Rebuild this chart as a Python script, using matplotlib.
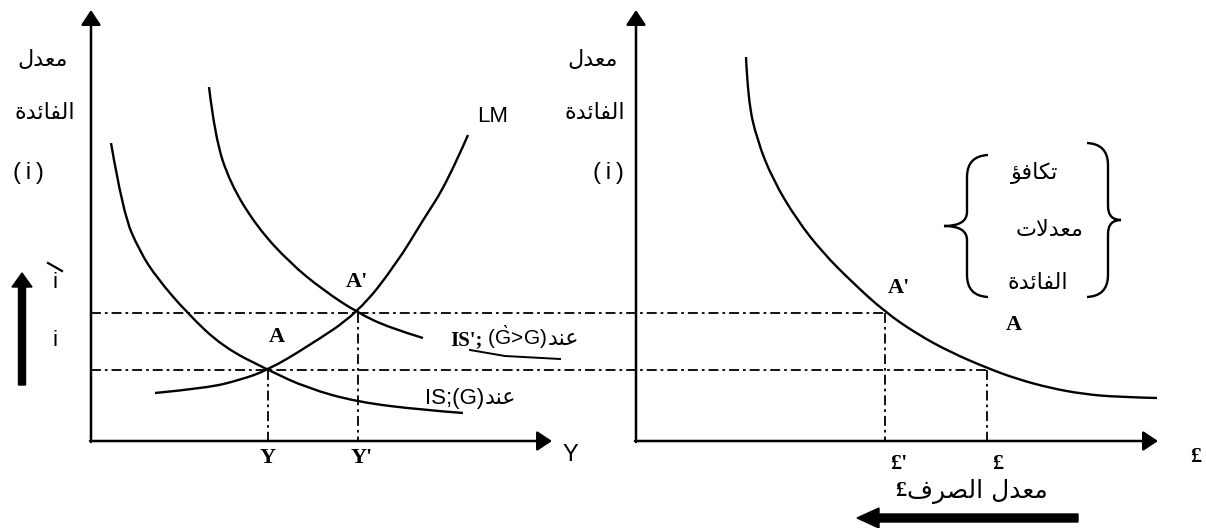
# IS-LM diagram with the interest-parity curve (two panels)
import matplotlib
matplotlib.use('Agg')
import matplotlib.pyplot as plt
from matplotlib.path import Path
from matplotlib.patches import PathPatch

plt.rcParams['mathtext.fontset'] = 'custom'
plt.rcParams['mathtext.rm'] = 'Liberation Sans'

# ---------------------------------------------------------------------------
# values (picture units, y grows downwards)
# ---------------------------------------------------------------------------
# left panel: IS, IS' and LM
is_x = [111, 123, 140, 157, 187, 223, 268, 307, 357, 423, 463]
is_y = [143, 213, 252, 278, 313, 347, 370, 388, 402, 410, 413]

is2_x = [209, 215, 230, 257, 290, 323, 358, 390, 423]
is2_y = [87, 137, 183, 227, 263, 290, 313, 328, 338]

lm_x = [155, 207, 240, 268, 307, 358, 397, 423, 447, 468]
lm_y = [393, 388, 380, 370, 347, 313, 263, 220, 183, 135]

# right panel: interest parity curve
ip_x = [746, 748, 757, 773, 797, 823, 853, 885, 917, 950, 987, 1017, 1050, 1083, 1117, 1157]
ip_y = [57, 100, 140, 180, 220, 253, 283, 312, 334, 352, 368, 379, 388, 394, 397, 398]

# equilibrium levels
i_low, i_high = 370, 313          # i, i'
y_low, y_high = 268, 358          # Y, Y'
e_low, e_high = 987, 885          # £, £'

# axes frames
left_x0, right_x0, base_y, top_y = 91, 636, 441, 10
left_x1, right_x1 = 552, 1158


###############################################################################
### arabic helper (matplotlib does no shaping, so use presentation forms)
###############################################################################

forms = {
    'ا': ('\uFE8D', '\uFE8E', None, None),
    'ئ': ('\uFE89', '\uFE8A', '\uFE8B', '\uFE8C'),
    'ؤ': ('\uFE85', '\uFE86', None, None),
    'ة': ('\uFE93', '\uFE94', None, None),
    'ت': ('\uFE95', '\uFE96', '\uFE97', '\uFE98'),
    'د': ('\uFEA9', '\uFEAA', None, None),
    'ر': ('\uFEAD', '\uFEAE', None, None),
    'ص': ('\uFEB9', '\uFEBA', '\uFEBB', '\uFEBC'),
    'ع': ('\uFEC9', '\uFECA', '\uFECB', '\uFECC'),
    'ف': ('\uFED1', '\uFED2', '\uFED3', '\uFED4'),
    'ك': ('\uFED9', '\uFEDA', '\uFEDB', '\uFEDC'),
    'ل': ('\uFEDD', '\uFEDE', '\uFEDF', '\uFEE0'),
    'م': ('\uFEE1', '\uFEE2', '\uFEE3', '\uFEE4'),
    'ن': ('\uFEE5', '\uFEE6', '\uFEE7', '\uFEE8'),
}


def ar(word):
    out = []
    n = len(word)
    i = 0
    while i < n:
        c = word[i]
        if c not in forms:
            out.append(c)
            i += 1
            continue
        prev = word[i - 1] if i > 0 else None
        jp = prev in forms and forms[prev][2] is not None
        nxt = word[i + 1] if i + 1 < n else None
        if c == 'ل' and nxt == 'ا':
            out.append('\uFEFC' if jp else '\uFEFB')
            i += 2
            continue
        jn = nxt in forms and forms[c][2] is not None
        iso, fin, ini, med = forms[c]
        if jp and jn:
            out.append(med)
        elif jp:
            out.append(fin)
        elif jn:
            out.append(ini)
        else:
            out.append(iso)
        i += 1
    return ''.join(reversed(out))


def smooth(xs, ys):
    # quadratic spline through the midpoints of the read points
    pts = list(zip(xs, ys))
    verts = [pts[0]]
    codes = [Path.MOVETO]
    for k in range(1, len(pts) - 1):
        mid = ((pts[k][0] + pts[k + 1][0]) / 2, (pts[k][1] + pts[k + 1][1]) / 2)
        if k == len(pts) - 2:
            mid = pts[-1]
        verts += [pts[k], mid]
        codes += [Path.CURVE3, Path.CURVE3]
    return Path(verts, codes)


###############################################################################
### figure
###############################################################################

fig = plt.figure(figsize=(12.06, 5.28), dpi=100)
ax = fig.add_axes([0, 0, 1, 1])
ax.set_xlim(0, 1206)
ax.set_ylim(528, 0)
ax.axis('off')

SANS = ['Liberation Sans', 'DejaVu Sans']
SERIF = ['Liberation Serif', 'DejaVu Serif']
ARAB = ['DejaVu Sans']

# axes with arrow heads
head = dict(arrowstyle='-|>,head_length=0.9,head_width=0.6', lw=1.8, color='k',
            shrinkA=0, shrinkB=0)
for x0, x1 in [(left_x0, left_x1), (right_x0, right_x1)]:
    ax.annotate('', xy=(x0, top_y), xytext=(x0, base_y + 1), arrowprops=head)
    ax.annotate('', xy=(x1, base_y), xytext=(x0 - 1, base_y), arrowprops=head)

# curves
for xs, ys in [(is_x, is_y), (is2_x, is2_y), (lm_x, lm_y), (ip_x, ip_y)]:
    ax.add_patch(PathPatch(smooth(xs, ys), fill=False, lw=1.7, ec='k',
                           capstyle='butt'))

# guide lines
dd = dict(color='k', lw=1.3, linestyle=(0, (5.5, 2.2, 1.5, 2.2)))
ax.plot([left_x0, e_high], [i_high, i_high], **dd)
ax.plot([left_x0, e_low], [i_low, i_low], **dd)
ax.plot([y_low, y_low], [i_low, base_y], **dd)
ax.plot([y_high, y_high], [i_high, base_y], **dd)
ax.plot([e_high, e_high], [i_high, base_y], **dd)
ax.plot([e_low, e_low], [i_low, base_y], **dd)

# little stroke under the IS' label
ax.plot([470, 505, 560], [350, 356, 359], color='k', lw=1.4)

# thick arrows
ax.arrow(22, 385, 0, -112, width=7, head_width=20, head_length=14,
         length_includes_head=True, color='k')
ax.arrow(1078, 518, -221, 0, width=8, head_width=20, head_length=22,
         length_includes_head=True, color='k')

# braces
for bx, tip, y0, y1, side in [(967, 944, 155, 297, 1), (1108, 1121, 143, 297, -1)]:
    xm = (y0 + y1) / 2
    end = bx + 21 * side
    verts = [(end, y0), (bx, y0 + 1), (bx, y0 + 22), (bx, xm - 14), (bx, xm), (tip, xm),
             (bx, xm), (bx, xm + 14), (bx, y1 - 22), (bx, y1 - 1), (end, y1)]
    codes = [Path.MOVETO, Path.CURVE3, Path.CURVE3, Path.LINETO, Path.CURVE3, Path.CURVE3,
             Path.CURVE3, Path.CURVE3, Path.LINETO, Path.CURVE3, Path.CURVE3]
    ax.add_patch(PathPatch(Path(verts, codes), fill=False, lw=1.7, ec='k'))

###############################################################################
### texts
###############################################################################

AR_SIZE = 16
for x in [43, 593]:
    ax.text(x, 60, ar('معدل'), family=ARAB, fontsize=AR_SIZE, ha='center', va='center')
    ax.text(x + 2, 113, ar('الفائدة'), family=ARAB, fontsize=AR_SIZE, ha='center', va='center')
ax.text(28, 173, '(\u2009i\u2009)', family=SANS, fontsize=17, ha='center', va='center')
ax.text(608, 173, '(\u2009i\u2009)', family=SANS, fontsize=17, ha='center', va='center')

# i with a grave stroke, and i
ax.text(55, 282, 'i', family=SANS, fontsize=16, ha='center', va='center')
ax.plot([48, 62], [263, 271], color='k', lw=1.6)
ax.text(55, 340, 'i', family=SANS, fontsize=16, ha='center', va='center')

ax.text(477, 117, 'LM', family=SANS, fontsize=16, ha='left', va='center')
ax.text(570, 455, 'Y', family=SANS, fontsize=17, ha='center', va='center')
ax.text(1196, 457, '£', family=SERIF, fontsize=16, weight='bold', ha='center', va='center')

bold = dict(family=SERIF, fontsize=16, weight='bold', ha='center', va='center')
ax.text(277, 337, 'A', **bold)
ax.text(357, 282, "A'", **bold)
ax.text(899, 288, "A'", **bold)
ax.text(1014, 325, 'A', **bold)
ax.text(y_low, 458, 'Y', **bold)
ax.text(y_high + 4, 458, "Y'", **bold)
ax.text(e_high + 14, 464, "£'", **bold)
ax.text(e_low + 11, 464, '£', **bold)

# mixed labels laid out piece by piece
renderer = fig.canvas.get_renderer()


def row(x, y, pieces):
    for s, kw in pieces:
        t = ax.text(x, y, s, ha='left', va='baseline', **kw)
        bb = t.get_window_extent(renderer)
        x = ax.transData.inverted().transform((bb.x1, bb.y0))[0]


row(450, 345, [("IS';", dict(family=SERIF, fontsize=15, weight='bold')),
               (r" $(\mathrm{\grave{G}}$>G)", dict(family=SANS, fontsize=15)),
               (ar('عند'), dict(family=ARAB, fontsize=AR_SIZE))])
row(425, 404, [("IS;(G)", dict(family=SANS, fontsize=16)),
               (ar('عند'), dict(family=ARAB, fontsize=AR_SIZE))])

ax.text(1035, 173, ar('تكافؤ'), family=ARAB, fontsize=AR_SIZE, ha='center', va='center')
ax.text(1050, 230, ar('معدلات'), family=ARAB, fontsize=AR_SIZE, ha='center', va='center')
ax.text(1038, 283, ar('الفائدة'), family=ARAB, fontsize=AR_SIZE, ha='center', va='center')

ax.text(906, 491, '£', family=SERIF, fontsize=16, weight='bold', ha='right', va='center')
ax.text(907, 491, ar('معدل الصرف'), family=ARAB, fontsize=18, ha='left', va='center')

fig.savefig('out.png', dpi=100)
